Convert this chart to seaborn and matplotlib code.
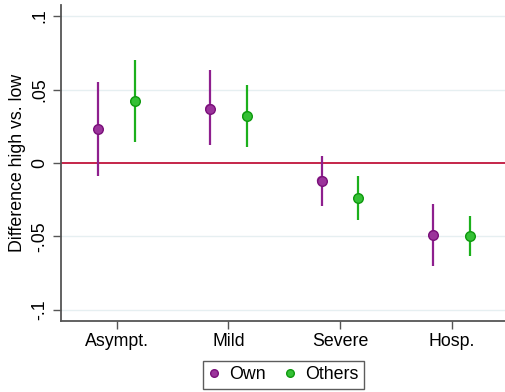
import numpy as np
import pandas as pd
import matplotlib
matplotlib.use("Agg")
import matplotlib.pyplot as plt
from matplotlib.lines import Line2D
import seaborn as sns

categories = ["Asympt.", "Mild", "Severe", "Hosp."]
own_est = [0.023, 0.037, -0.012, -0.049]
own_lo = [-0.009, 0.012, -0.029, -0.070]
own_hi = [0.055, 0.063, 0.005, -0.028]
oth_est = [0.042, 0.032, -0.024, -0.050]
oth_lo = [0.014, 0.011, -0.039, -0.063]
oth_hi = [0.070, 0.053, -0.009, -0.036]
series = ["Own", "Others"]
yticks = [-0.1, -0.05, 0, 0.05, 0.1]
ytick_labels = ["-.1", "-.05", "0", ".05", ".1"]

sns.set_theme(style="white")
plt.rcParams["font.family"] = ["Liberation Sans", "DejaVu Sans"]
plt.rcParams["text.color"] = "black"
plt.rcParams["axes.labelcolor"] = "black"
plt.rcParams["xtick.color"] = "black"
plt.rcParams["ytick.color"] = "black"

rows = []
for i, c in enumerate(categories):
    rows.append(dict(cat=c, idx=i, series="Own", est=own_est[i], lo=own_lo[i], hi=own_hi[i]))
    rows.append(dict(cat=c, idx=i, series="Others", est=oth_est[i], lo=oth_lo[i], hi=oth_hi[i]))
df = pd.DataFrame(rows)
offset = {"Own": -0.165, "Others": 0.165}
df["xpos"] = df["idx"] + df["series"].map(offset)

line_col = {"Own": "#8E1F8E", "Others": "#1CB01C"}
face_col = {"Own": "#9B349B", "Others": "#35C035"}
edge_col = {"Own": "#7A107A", "Others": "#0E990E"}

fig = plt.figure(figsize=(5.05, 3.92), dpi=100)
ax = fig.add_axes([61/505, 1-321/392, 1-61/505, (321-5)/392])

for yv in yticks:
    if yv != 0:
        ax.axhline(yv, color="#E6EFF1", lw=1.0, zorder=0)
ax.axhline(0, color="#C0143C", lw=1.3, zorder=1)

for s in series:
    sub = df[df["series"] == s]
    ax.vlines(sub["xpos"], sub["lo"], sub["hi"], color=line_col[s], lw=1.6, zorder=2)

sns.scatterplot(data=df, x="xpos", y="est", hue="series", palette=face_col,
                s=48, ax=ax, zorder=3, legend=False, linewidth=0)
for s in series:
    sub = df[df["series"] == s]
    ax.scatter(sub["xpos"], sub["est"], s=48, facecolor=face_col[s],
               edgecolor=edge_col[s], linewidth=1.0, zorder=4)

ax.set_xlim(-0.5, 3.478)
ax.set_ylim(-0.1075, 0.1075)
ax.set_xticks(range(len(categories)))
ax.set_xticklabels(categories, fontsize=12.8)
ax.set_yticks(yticks)
ax.set_yticklabels(ytick_labels, fontsize=12.8, rotation=90, va="center")
ax.set_xlabel("")
ax.set_ylabel("Difference high vs. low", fontsize=12.8, labelpad=4)
for sp in ["top", "right"]:
    ax.spines[sp].set_visible(False)
for sp in ["left", "bottom"]:
    ax.spines[sp].set_color("#555555")
    ax.spines[sp].set_linewidth(1.3)
ax.tick_params(axis="both", direction="out", length=6, width=1.0, color="#555555",
               left=True, bottom=True, pad=3)

handles = [Line2D([], [], marker="o", linestyle="none", markersize=5.5,
                  markerfacecolor=face_col[s], markeredgecolor=edge_col[s], markeredgewidth=1.0)
           for s in series]
leg = fig.legend(handles, series, loc="upper left", bbox_to_anchor=(203/505, 1-361/392),
                 ncol=2, frameon=True, fancybox=False, fontsize=12.8, borderaxespad=0,
                 handletextpad=0.55, columnspacing=1.1, borderpad=0.3, handlelength=0.6)
leg.get_frame().set_edgecolor("#333333")
leg.get_frame().set_linewidth(1.0)

fig.savefig("out.png", dpi=100)
